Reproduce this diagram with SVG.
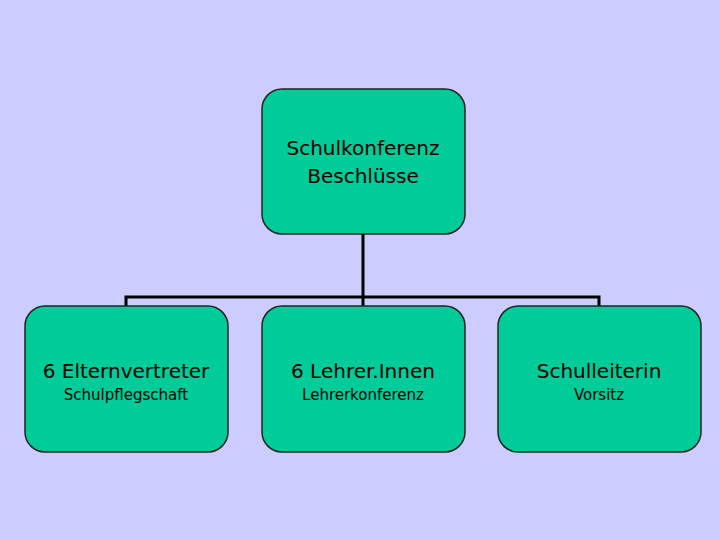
<svg xmlns="http://www.w3.org/2000/svg" width="720" height="540" viewBox="0 0 720 540">
<style>
.box{fill:#00CC99;stroke:#222;stroke-width:1.5}
.t{font-family:"DejaVu Sans",sans-serif;font-size:20px;text-anchor:middle;fill:#000}
.s{font-family:"DejaVu Sans",sans-serif;font-size:15px;text-anchor:middle;fill:#000}
.c{fill:none;stroke:#000;stroke-width:3}
</style>
<rect width="720" height="540" fill="#CCCCFF"/>
<g id="connectors">
<path class="c" d="M363 234V297M126 306V297H599V306M363 297V306"/>
</g>
<g id="top"><rect class="box" x="262" y="89" width="203" height="145" rx="20"/>
<text class="t" x="363" y="155">Schulkonferenz</text><text class="t" x="363" y="183">Beschlüsse</text></g>
<g id="eltern"><rect class="box" x="25" y="306" width="203" height="146" rx="20"/>
<text class="t" x="126" y="378">6 Elternvertreter</text><text class="s" x="126" y="400">Schulpflegschaft</text></g>
<g id="lehrer"><rect class="box" x="262" y="306" width="203" height="146" rx="20"/>
<text class="t" x="363" y="378">6 Lehrer.Innen</text><text class="s" x="363" y="400">Lehrerkonferenz</text></g>
<g id="leitung"><rect class="box" x="498" y="306" width="203" height="146" rx="20"/>
<text class="t" x="599" y="378">Schulleiterin</text><text class="s" x="599" y="400">Vorsitz</text></g>
</svg>
